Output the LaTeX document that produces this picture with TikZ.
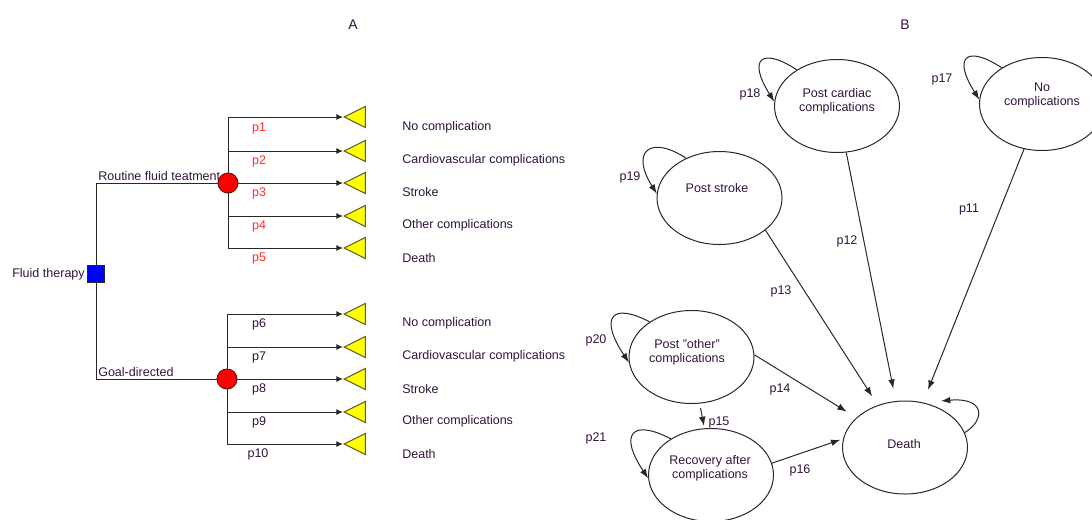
\documentclass[tikz,border=0pt]{standalone}
\usepackage{fontspec}
\setmainfont{Liberation Sans}
\usetikzlibrary{shapes.geometric,arrows.meta,calc,backgrounds}
\definecolor{txt}{RGB}{50,20,60}
\definecolor{pred}{RGB}{255,45,45}
\definecolor{ln}{RGB}{40,40,40}
\definecolor{dblue}{RGB}{0,0,255}
\definecolor{cred}{RGB}{255,0,0}
\definecolor{dred}{RGB}{110,20,20}
\definecolor{tyellow}{RGB}{255,255,0}
\definecolor{tgray}{RGB}{90,90,60}
\begin{document}
\begin{tikzpicture}[x=0.75pt,y=-0.75pt,
  every node/.style={font=\fontsize{9.4}{10.5}\selectfont, text=txt, inner sep=0pt},
  decision/.style={rectangle, draw=ln, line width=0.75pt, fill=dblue, minimum size=12.75pt},
  chance/.style={circle, draw=dred, line width=0.75pt, fill=cred, minimum size=15pt},
  termnode/.style={isosceles triangle, isosceles triangle stretches, shape border rotate=180,
    draw=tgray, line width=0.75pt, fill=tyellow, minimum width=15.75pt, minimum height=15.75pt, anchor=apex},
  treeline/.style={draw=ln, line width=0.75pt},
  branch/.style={draw=ln, line width=0.75pt, -{Latex[length=5pt,width=4.5pt]}},
  stnode/.style={ellipse, draw=ln, line width=0.75pt, minimum width=93.75pt, minimum height=69.75pt},
  sttext/.style={align=center},
  transarrow/.style={draw=ln, line width=0.75pt, -{Latex[length=7pt,width=5pt]}},
  plab/.style={text=pred},
  outlab/.style={anchor=west}]
\useasboundingbox (0,0) rectangle (1092,519);

% titles
\node (tA) at (353,25) {\fontsize{10.5}{12}\selectfont A};
\node (tB) at (905,25) {\fontsize{10.5}{12}\selectfont B};

% ---------- decision tree ----------
\node[decision] (d) at (96,274) {};
\node[anchor=east] (dlab) at (85,274) {Fluid therapy};
\node[chance] (c1) at (228,183) {};
\node[chance] (c2) at (227,379) {};
\node[anchor=west] (c1lab) at (98,176) {Routine fluid teatment};
\node[anchor=west] (c2lab) at (98,372) {Goal-directed};

\foreach \i/\y in {1/117,2/151,3/183,4/216,5/248,6/314,7/347,8/379,9/412,10/444}{
  \node[termnode] (t\i) at (343,\y) {};
}

\begin{scope}[on background layer]
  \draw[treeline] (d.north) |- (c1.west);
  \draw[treeline] (d.south) |- (c2.west);
  \foreach \i in {1,...,5}{ \draw[branch] (c1.center) |- (t\i.apex); }
  \foreach \i in {6,...,10}{ \draw[branch] (c2.center) |- (t\i.apex); }
\end{scope}

% probability labels
\node[plab] (p1) at (259,128) {p1};
\node[plab] (p2) at (259,161) {p2};
\node[plab] (p3) at (259,193) {p3};
\node[plab] (p4) at (259,226) {p4};
\node[plab] (p5) at (259,258) {p5};
\node (p6) at (259,324) {p6};
\node (p7) at (259,357) {p7};
\node (p8) at (259,389) {p8};
\node (p9) at (259,422) {p9};
\node (p10) at (258,454) {p10};

% outcome labels
\node[outlab] (o1) at (402,127) {No complication};
\node[outlab] (o2) at (402,160) {Cardiovascular complications};
\node[outlab] (o3) at (402,192) {Stroke};
\node[outlab] (o4) at (402,225) {Other complications};
\node[outlab] (o5) at (402,258) {Death};
\node[outlab] (o6) at (402,323) {No complication};
\node[outlab] (o7) at (402,356) {Cardiovascular complications};
\node[outlab] (o8) at (402,389) {Stroke};
\node[outlab] (o9) at (402,421) {Other complications};
\node[outlab] (o10) at (402,454) {Death};

% ---------- Markov model ----------
\node[stnode] (pc) at (837,106) {};
\node[sttext] (pct) at (837,101) {Post cardiac\\complications};
\node[stnode] (nc) at (1042,104) {};
\node[sttext] (nct) at (1042,95) {No\\complications};
\node[stnode] (ps) at (719.5,198) {};
\node[sttext] (pst) at (717,188) {Post stroke};
\node[stnode] (po) at (691.5,357) {};
\node[sttext] (pot) at (687,352.5) {Post "other"\\complications};
\node[stnode] (rc) at (711,475) {};
\node[sttext] (rct) at (710,468) {Recovery after\\complications};
\node[stnode] (de) at (905,447.5) {};
\node[sttext] (det) at (904,444) {Death};

% transitions
\draw[transarrow, shorten >=9.4pt] (pc) -- (de);
\draw[transarrow, shorten >=10.2pt] (nc) -- (de);
\draw[transarrow, shorten >=7.8pt] (ps.-35) -- (de);
\draw[transarrow, shorten >=8.6pt] (po.2) -- (de);
\draw[transarrow, shorten >=2.2pt] (rc.11) -- (de.172);
\draw[transarrow] ($(po.south)+(9,4)$) -- ($(rc.north)+(-7,-2)$);

% self loops
\draw[transarrow] (pc.138) .. controls +(-35,-23) and +(-27,-43) .. (pc.176);
\draw[transarrow] (nc.138) .. controls +(-35,-23) and +(-27,-43) .. (nc.176);
\draw[transarrow] (ps.130) .. controls +(-35,-23) and +(-27,-43) .. (ps.176);
\draw[transarrow] (po.140) .. controls +(-38,-20) and +(-30,-45) .. (po.185);
\draw[transarrow] (rc.138) .. controls +(-38,-20) and +(-30,-45) .. (rc.183);
\coordinate (dl) at ($(de.center)+(36,-46.5)$);
\draw[transarrow] (de.14) .. controls +(21,-13) and +(44,-4) .. (dl);

% transition labels
\node (l11) at (969,209) {p11};
\node (l12) at (847,241) {p12};
\node (l13) at (781,291) {p13};
\node (l14) at (780,389) {p14};
\node (l15) at (719,422) {p15};
\node (l16) at (800,470) {p16};
\node (l17) at (942,79) {p17};
\node (l18) at (750,94) {p18};
\node (l19) at (630,177) {p19};
\node (l20) at (596,340) {p20};
\node (l21) at (596,438) {p21};
\end{tikzpicture}
\end{document}
